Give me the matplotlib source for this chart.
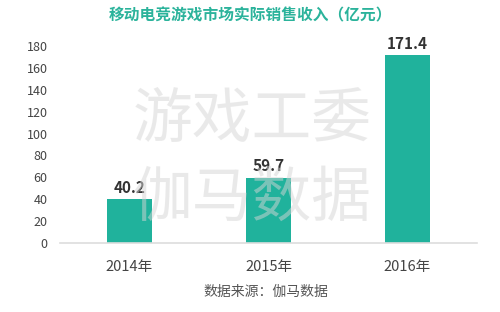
import matplotlib
matplotlib.use('Agg')
import matplotlib.pyplot as plt

plt.rcParams['font.family'] = ['Noto Sans CJK SC', 'DejaVu Sans']

years = ['2014年', '2015年', '2016年']
revenue = [40.2, 59.7, 171.4]
yticks = [0, 20, 40, 60, 80, 100, 120, 140, 160, 180]

teal = '#20b29c'

fig = plt.figure(figsize=(5, 3.12), dpi=100)
ax = fig.add_axes([0.12, 0.221, 0.834, 0.632])

x = range(len(years))
ax.bar(x, revenue, width=0.32, color=teal, zorder=2)
for i, v in zip(x, revenue):
    ax.text(i, v + 3, '%.1f' % v, ha='center', va='bottom', fontsize=11,
            fontweight='bold', color='#333333', zorder=6)

ax.set_xlim(-0.5, 2.5)
ax.set_ylim(0, 180)
ax.set_yticks(yticks)
ax.set_xticks(list(x))
ax.set_xticklabels(years)
ax.tick_params(axis='y', length=0, pad=9, labelsize=9, labelcolor='#444444')
ax.tick_params(axis='x', length=0, pad=12, labelsize=10.5, labelcolor='#444444')
for s in ['top', 'right', 'left']:
    ax.spines[s].set_visible(False)
ax.spines['bottom'].set_color('#dddddd')
ax.spines['bottom'].set_linewidth(1.2)

fig.text(0.5, 0.952, '移动电竞游戏市场实际销售收入（亿元）', ha='center', va='center',
         fontsize=11.3, fontweight='bold', color='#2bb39b')
fig.text(0.532, 0.064, '数据来源：伽马数据', ha='center', va='center',
         fontsize=10, color='#555555')

# watermark
fig.text(0.504, 0.61, '游戏工委', ha='center', va='center', fontsize=43,
         color='#d5d5d5', alpha=0.5, zorder=5)
fig.text(0.504, 0.362, '伽马数据', ha='center', va='center', fontsize=43,
         color='#d5d5d5', alpha=0.5, zorder=5)

fig.savefig('out.png', dpi=100)
